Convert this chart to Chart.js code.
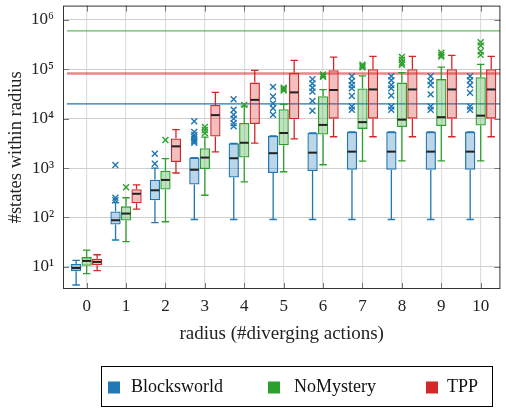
<!DOCTYPE html>
<html>
<head>
<meta charset="utf-8">
<script src="https://cdn.jsdelivr.net/npm/chart.js@4"></script>
<style>
  html, body { margin: 0; padding: 0; background: #fff; }
  #wrap { width: 506px; height: 411px; }
</style>
</head>
<body>
<div id="wrap"><canvas id="radiusBoxes"></canvas></div>
<script>
const radii = [0, 1, 2, 3, 4, 5, 6, 7, 8, 9, 10];
const names = ["Blocksworld", "NoMystery", "TPP"];
const colors = ["#1f77b4", "#2ca02c", "#d62728"];
const fills = ["rgba(31,119,180,0.3)", "rgba(44,160,44,0.3)", "rgba(214,39,40,0.3)"];

// Blocksworld
const bwMin = [4.3, 35, 79, 91, 91, 91, 91, 91, 91, 91, 91];
const bwQ1 = [8.2, 72, 222, 464, 646, 794, 871, 925, 925, 925, 925];
const bwMed = [9.5, 88, 355, 925, 1580, 2000, 2050, 2150, 2150, 2150, 2150];
const bwQ3 = [11.5, 132, 583, 1630, 3160, 4490, 5150, 5400, 5400, 5400, 5400];
const bwMax = [13.5, 200, 1000, 1630, 3160, 4490, 5150, 5400, 5400, 5400, 5400];
const bwOut = [
  [], [1150, 250, 224], [1950, 1220],
  [8830, 5400, 4700, 4200, 3800, 3500, 3250],
  [24700, 15100, 12000, 10000, 8100, 7000],
  [44000, 28000, 20400, 16200, 12000],
  [63000, 51500, 42300, 35200, 22900, 14500],
  [72000, 57500, 47900, 41000, 28800, 17600, 15100],
  [72000, 60000, 47900, 41000, 29500, 17600, 15100],
  [72000, 57500, 47900, 31000, 17600, 15100],
  [72000, 60000, 47900, 33500, 17600, 15100]
];

// NoMystery
const nmMin = [7.3, 32.5, 82, 282, 525, 843, 1166, 1380, 1400, 1400, 1400];
const nmQ1 = [10.5, 87, 368, 955, 1630, 2880, 4790, 6200, 6800, 7080, 7240];
const nmMed = [13.2, 120, 575, 1630, 3250, 5130, 7470, 8500, 9550, 10700, 11500];
const nmQ3 = [15.8, 168, 883, 2510, 8150, 15500, 28400, 40700, 53700, 63100, 69200];
const nmMax = [21.9, 251, 1550, 4230, 18000, 19500, 38600, 73500, 85100, 110000, 126000];
const nmOut = [
  [], [410], [3700], [6800, 5900, 5100], [19000],
  [42500, 40000, 37000], [78000, 74000, 70000],
  [123000, 115000, 108000], [178000, 155000, 135000, 123000],
  [215000, 195000, 180000], [352000, 302000, 229000, 195000]
];

// TPP
const tpMin = [8.4, 148, 794, 2130, 3200, 3900, 4300, 4300, 4300, 4300, 4300];
const tpQ1 = [10.8, 193, 1320, 4350, 7800, 9700, 10000, 10000, 10000, 10000, 10000];
const tpMed = [12.6, 302, 2750, 11800, 24000, 34000, 38000, 39000, 39000, 39000, 39000];
const tpQ3 = [14.7, 372, 3980, 19000, 53700, 85000, 95500, 100000, 100000, 100000, 100000];
const tpMax = [17.6, 457, 6000, 34000, 95000, 151000, 176000, 182000, 182000, 190000, 182000];
const tpOut = [[], [], [], [], [], [], [], [], [], [], []];

// total state counts per domain (horizontal lines)
const limits = [2.0e4, 6.0e5, 8.2e4];
const limitSpan = [-0.5, 10.5];

const series = [
  { min: bwMin, q1: bwQ1, med: bwMed, q3: bwQ3, max: bwMax, out: bwOut },
  { min: nmMin, q1: nmQ1, med: nmMed, q3: nmQ3, max: nmMax, out: nmOut },
  { min: tpMin, q1: tpQ1, med: tpMed, q3: tpQ3, max: tpMax, out: tpOut }
];

const sup = "⁰¹²³⁴⁵⁶⁷⁸⁹";
const isDecade = v => Math.abs(Math.log10(v) - Math.round(Math.log10(v))) < 1e-9;
const font = "'Liberation Serif', 'DejaVu Serif', serif";

const datasets = [];
series.forEach((s, i) => {
  datasets.push({
    type: "bar",
    label: names[i],
    data: radii.map((r, k) => ({ x: r, y: [s.q1[k], s.q3[k]] })),
    backgroundColor: fills[i],
    borderColor: colors[i],
    borderWidth: 1.3,
    borderSkipped: false,
    categoryPercentage: 0.8,
    barPercentage: 0.98,
    order: 2
  });
});
series.forEach((s, i) => {
  datasets.push({
    type: "scatter",
    label: names[i] + " outliers",
    data: radii.flatMap((r, k) => s.out[k].map(v => ({ x: r - 0.27 + 0.27 * i, y: v }))),
    pointStyle: "crossRot",
    pointRadius: 4.2,
    pointBorderWidth: 1.4,
    borderColor: colors[i],
    backgroundColor: colors[i],
    order: 0
  });
});
limits.forEach((v, i) => {
  datasets.push({
    type: "line",
    label: names[i] + " total",
    data: limitSpan.map(x => ({ x: x, y: v })),
    borderColor: i === 2 ? "rgba(214,39,40,0.55)" : (i === 1 ? "rgba(44,160,44,0.75)" : colors[i]),
    borderWidth: i === 2 ? 2.6 : 1.2,
    pointRadius: 0,
    order: 3
  });
});

const boxParts = {
  id: "boxParts",
  afterDatasetsDraw(chart) {
    const ctx = chart.ctx;
    const y = chart.scales.y;
    ctx.save();
    series.forEach((s, i) => {
      const meta = chart.getDatasetMeta(i);
      meta.data.forEach((bar, k) => {
        const cx = bar.x;
        const half = bar.width / 2;
        const cap = bar.width * 0.36;
        const yMin = y.getPixelForValue(s.min[k]);
        const yMax = y.getPixelForValue(s.max[k]);
        const yQ1 = y.getPixelForValue(s.q1[k]);
        const yQ3 = y.getPixelForValue(s.q3[k]);
        const yMed = y.getPixelForValue(s.med[k]);
        ctx.strokeStyle = colors[i];
        ctx.lineWidth = 1.3;
        ctx.beginPath();
        ctx.moveTo(cx, yQ1); ctx.lineTo(cx, yMin);
        ctx.moveTo(cx - cap, yMin); ctx.lineTo(cx + cap, yMin);
        if (yMax < yQ3 - 0.5) {
          ctx.moveTo(cx, yQ3); ctx.lineTo(cx, yMax);
        }
        ctx.moveTo(cx - cap, yMax); ctx.lineTo(cx + cap, yMax);
        ctx.stroke();
        ctx.strokeStyle = "#222";
        ctx.lineWidth = 2;
        ctx.beginPath();
        ctx.moveTo(cx - half + 0.7, yMed); ctx.lineTo(cx + half - 0.7, yMed);
        ctx.stroke();
      });
    });
    ctx.restore();
  }
};

const frame = {
  id: "frame",
  afterDraw(chart) {
    const { ctx, chartArea: a } = chart;
    ctx.save();
    // inner tick marks
    ctx.strokeStyle = "#777";
    ctx.lineWidth = 1;
    ctx.beginPath();
    chart.scales.y.ticks.forEach(t => {
      const py = Math.round(chart.scales.y.getPixelForValue(t.value)) + 0.5;
      const len = isDecade(t.value) ? 6 : 4;
      ctx.moveTo(a.left, py); ctx.lineTo(a.left + len, py);
      ctx.moveTo(a.right, py); ctx.lineTo(a.right - len, py);
    });
    chart.scales.x.ticks.forEach(t => {
      const px = Math.round(chart.scales.x.getPixelForValue(t.value)) + 0.5;
      ctx.moveTo(px, a.bottom); ctx.lineTo(px, a.bottom - 6);
      ctx.moveTo(px, a.top); ctx.lineTo(px, a.top + 6);
    });
    ctx.stroke();
    ctx.strokeStyle = "#333";
    ctx.lineWidth = 1;
    ctx.strokeRect(a.left + 0.5, a.top + 0.5, a.right - a.left - 1, a.bottom - a.top - 1);

    // legend
    const lx = 101.5, ly = 366.5, lw = 391, lh = 40;
    ctx.strokeStyle = "#000";
    ctx.strokeRect(lx, ly, lw, lh);
    const slots = [108, 268, 426];
    ctx.font = "18px " + font;
    ctx.textBaseline = "middle";
    ctx.textAlign = "left";
    names.forEach((n, i) => {
      ctx.fillStyle = colors[i];
      ctx.fillRect(slots[i], ly + 15, 12, 12);
      ctx.fillStyle = "#111";
      ctx.fillText(n, slots[i] + (i === 2 ? 21 : 23) + (i === 1 ? 3 : 0), ly + 21);
    });
    ctx.restore();
  }
};

new Chart(document.getElementById("radiusBoxes"), {
  type: "bar",
  data: { datasets: datasets },
  plugins: [boxParts, frame],
  options: {
    responsive: true,
    maintainAspectRatio: false,
    animation: false,
    layout: { padding: { top: 3, right: 1, left: 0, bottom: 64 } },
    plugins: {
      legend: { display: false },
      tooltip: { enabled: false }
    },
    scales: {
      x: {
        type: "linear",
        min: -0.6,
        max: 10.5,
        offset: false,
        afterBuildTicks: s => { s.ticks = radii.map(v => ({ value: v })); },
        afterFit: s => { s.height = 58; s.paddingLeft = 0; s.paddingRight = 0; },
        grid: { offset: false, color: "#dedede", lineWidth: 1.2, drawTicks: false },
        border: { display: false },
        ticks: { padding: 7, color: "#222", font: { family: font, size: 17 }, callback: v => String(v) },
        title: { display: true, text: "radius (#diverging actions)", color: "#222", font: { family: font, size: 19 }, padding: { top: 4, bottom: 2 } }
      },
      y: {
        type: "logarithmic",
        min: 3.57,
        max: 1.94e6,
        afterFit: s => { s.width = 63; s.paddingTop = 0; s.paddingBottom = 0; },
        grid: {
          drawTicks: false,
          color: c => (c.tick && isDecade(c.tick.value)) ? "#cfcfcf" : "#e4e4e4",
          lineWidth: 1
        },
        border: { display: false },
        ticks: {
          padding: 9,
          color: "#222",
          font: { family: font, size: 17 },
          autoSkip: false,
          callback: v => isDecade(v) ? "10" + sup[Math.round(Math.log10(v))] : null
        },
        title: { display: true, text: "#states within radius", color: "#222", font: { family: font, size: 18.5 }, padding: { top: 5, bottom: 2 } }
      }
    }
  }
});
</script>
</body>
</html>
